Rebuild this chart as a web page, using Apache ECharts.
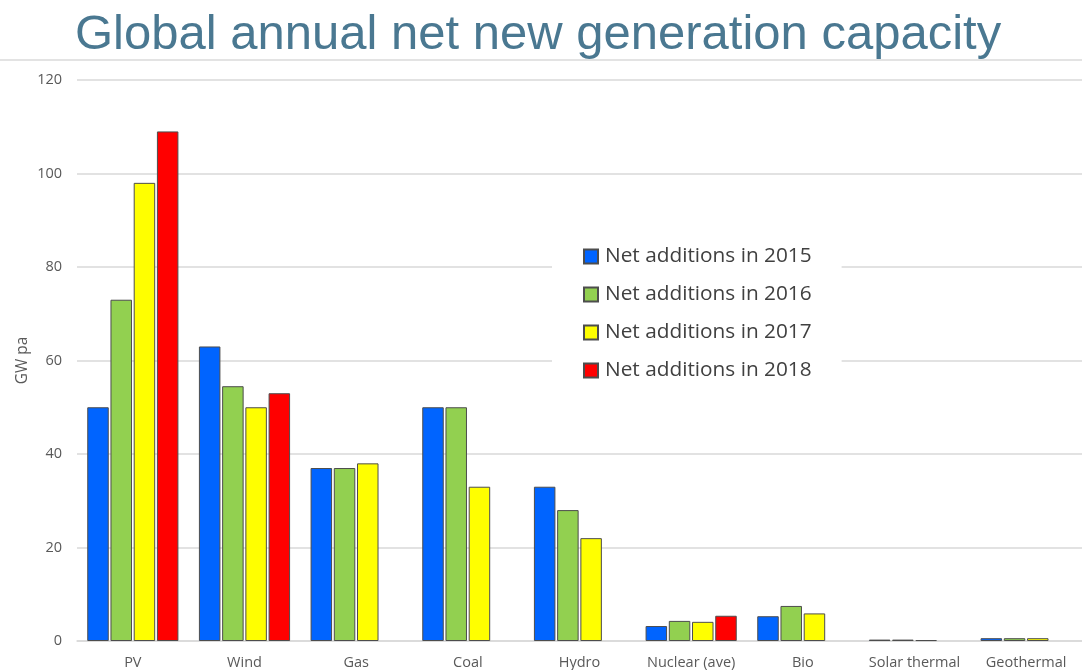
<!DOCTYPE html>
<html>
<head>
<meta charset="utf-8">
<script src="https://cdn.jsdelivr.net/npm/echarts@6/dist/echarts.min.js"></script>
<style>
  html, body { margin: 0; padding: 0; background: #fff; }
  #chart { width: 1082px; height: 670px; }
</style>
</head>
<body>
<div id="chart"></div>
<script>
let categories = ['PV', 'Wind', 'Gas', 'Coal', 'Hydro', 'Nuclear (ave)', 'Bio', 'Solar thermal', 'Geothermal'];
let adds2015 = [50, 63, 37, 50, 33, 3.2, 5.3, 0.3, 0.6];
let adds2016 = [73, 54.5, 37, 50, 28, 4.3, 7.5, 0.3, 0.6];
let adds2017 = [98, 50, 38, 33, 22, 4.1, 5.9, 0.2, 0.6];
let adds2018 = [109, 53, '-', '-', '-', 5.4, '-', '-', '-'];
let seriesNames = ['Net additions in 2015', 'Net additions in 2016', 'Net additions in 2017', 'Net additions in 2018'];
let colors = ['#0064ff', '#92d050', '#ffff00', '#ff0000'];

let labelFont = '"Open Sans", Lato, sans-serif';

function barSeries(name, data, color) {
  return {
    name: name,
    type: 'bar',
    data: data,
    barWidth: 21.5,
    barGap: '8%',
    itemStyle: { color: color, borderColor: '#4d4d4d', borderWidth: 1 }
  };
}

let chart = echarts.init(document.getElementById('chart'));
let option = {
  animation: false,
  title: {
    text: 'Global annual net new generation capacity',
    left: 70,
    top: 6,
    textStyle: {
      fontFamily: '"Liberation Sans", Arial, sans-serif',
      fontSize: 49,
      fontWeight: 'normal',
      color: '#4a7891'
    }
  },
  graphic: [{
    type: 'line',
    shape: { x1: 0, y1: 60, x2: 1082, y2: 60 },
    style: { stroke: '#e3e3e3', lineWidth: 2 }
  }],
  legend: {
    orient: 'vertical',
    left: 552,
    top: 232,
    padding: [14, 30, 14, 31],
    backgroundColor: '#fff',
    itemWidth: 14,
    itemHeight: 14,
    itemGap: 17,
    icon: 'rect',
    textStyle: { fontFamily: labelFont, fontSize: 20.8, lineHeight: 20, color: '#404040', padding: [0, 0, 0, 2] },
    data: seriesNames
  },
  grid: { left: 77, width: 1011, top: 80, bottom: 29 },
  xAxis: {
    type: 'category',
    data: categories,
    axisLine: { lineStyle: { color: '#d9d9d9', width: 1.5 } },
    axisTick: { show: false },
    axisLabel: { interval: 0, hideOverlap: false, fontFamily: labelFont, fontSize: 14.5, color: '#595959', margin: 14 }
  },
  yAxis: {
    type: 'value',
    min: 0,
    max: 120,
    interval: 20,
    name: 'GW pa',
    nameLocation: 'middle',
    nameGap: 46,
    nameMoveOverlap: false,
    nameTextStyle: { fontFamily: labelFont, fontSize: 15.5, color: '#595959' },
    axisLine: { show: false },
    axisTick: { show: false },
    axisLabel: { fontFamily: labelFont, fontSize: 14.5, color: '#595959', margin: 15 },
    splitLine: { lineStyle: { color: '#d9d9d9', width: 1.5 } }
  },
  series: [
    barSeries(seriesNames[0], adds2015, colors[0]),
    barSeries(seriesNames[1], adds2016, colors[1]),
    barSeries(seriesNames[2], adds2017, colors[2]),
    barSeries(seriesNames[3], adds2018, colors[3])
  ]
};
chart.setOption(option);
</script>
</body>
</html>
